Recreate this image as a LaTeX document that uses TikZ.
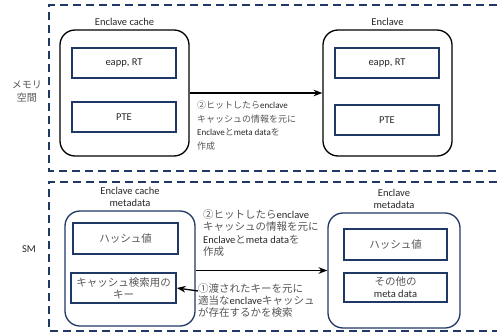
\documentclass[tikz,border=0pt]{standalone}
\usepackage{fontspec}
\setmainfont{Carlito}
\newfontfamily\jpfont{Noto Sans CJK JP}
\usepackage{xcolor}
\usetikzlibrary{arrows.meta}

\definecolor{navy}{HTML}{203864}
\definecolor{txt}{HTML}{262626}
\definecolor{jpgray}{HTML}{555555}
% japanese runs inside latin text
\newcommand{\jp}[1]{{\jpfont\color{jpgray}#1}}

\begin{document}
\begin{tikzpicture}[>=Stealth, x=1pt, y=-1pt,
    font=\fontsize{10.5}{12.5}\selectfont, text=txt,
    region/.style={navy, line width=1.6pt, dash pattern=on 8pt off 5pt},
    outerbox/.style={draw, rounded corners=15pt, line width=1.3pt, minimum width=129pt, minimum height=126pt},
    innerbox/.style={draw=navy, line width=1.6pt, minimum width=104pt, minimum height=30pt, inner sep=2pt, align=center, font=\fontsize{10.5}{12}\selectfont},
    note/.style={anchor=north west, inner sep=0pt, align=left}]
    \useasboundingbox (0,0) rectangle (497,334);

    % memory region and SM region
    \draw[region] (497,5) -- (49,5) -- (49,171) -- (497,171);
    \draw[region] (497,182) -- (49,182) -- (49,331) -- (497,331);
    \node[align=center, font=\fontsize{10}{13}\selectfont] (memlbl) at (27,92) {\jp{メモリ}\\\jp{空間}};
    \node (smlbl) at (29,249) {SM};

    % Enclave cache
    \node[outerbox] (cache) at (124.5,93) {};
    \node[above] (cachelbl) at (cache.north) {Enclave cache};
    \node[innerbox] (cacheapp) at (124,63) {eapp, RT};
    \node[innerbox] (cachepte) at (124,117) {PTE};

    % Enclave
    \node[outerbox] (enclave) at (387.5,93) {};
    \node[above] (enclavelbl) at (enclave.north) {Enclave};
    \node[innerbox] (enclaveapp) at (387,63) {eapp, RT};
    \node[innerbox] (enclavepte) at (387,120) {PTE};

    \draw[->, line width=1.3pt] (cache.east) -- (enclave.west);
    \node[note, font=\fontsize{9}{13.5}\selectfont] (copynote) at (197,101)
        {\jp{②ヒットしたら}enclave\\\jp{キャッシュの情報を元に}\\Enclave\jp{と}meta data\jp{を}\\\jp{作成}};

    % Enclave cache metadata
    \node[outerbox, draw=navy, minimum width=130pt, minimum height=115pt] (cachemeta) at (130,268.5) {};
    \node[above, align=center] (cachemetalbl) at (cachemeta.north) {Enclave cache\\metadata};
    \node[innerbox, minimum width=105pt, minimum height=31pt] (cachehash) at (125.5,238.5) {\jp{ハッシュ値}};
    \node[innerbox, minimum width=105pt] (cachekey) at (123.5,288) {\jp{キャッシュ検索用の}\\\jp{キー}};

    % Enclave metadata
    \node[outerbox, draw=navy, minimum width=132pt, minimum height=115pt] (meta) at (394,270.5) {};
    \node[above, align=center] (metalbl) at (meta.north) {Enclave\\metadata};
    \node[innerbox, minimum width=103pt, minimum height=31pt] (metahash) at (395.5,244.5) {\jp{ハッシュ値}};
    \node[innerbox, minimum width=103pt, minimum height=29pt] (metaother) at (395.5,287.5) {\jp{その他の}\\meta data};

    \draw[->, line width=1.3pt] (cachemeta.east |- meta.west) -- (meta.west);
    \node[note, font=\fontsize{10.5}{12.5}\selectfont] (metanote) at (203,209)
        {\jp{②ヒットしたら}enclave\\\jp{キャッシュの情報を元に}\\Enclave\jp{と}meta data\jp{を}\\\jp{作成}};

    % key lookup
    \coordinate (keytip) at (198,291);
    \draw[->, line width=1.3pt] (keytip) -- (cachekey.east);
    \node[note, font=\fontsize{10.5}{12}\selectfont] (searchnote) at (198,283)
        {\jp{①渡されたキーを元に}\\\jp{適当な}enclave\jp{キャッシュ}\\\jp{が存在するかを検索}};
\end{tikzpicture}
\end{document}
